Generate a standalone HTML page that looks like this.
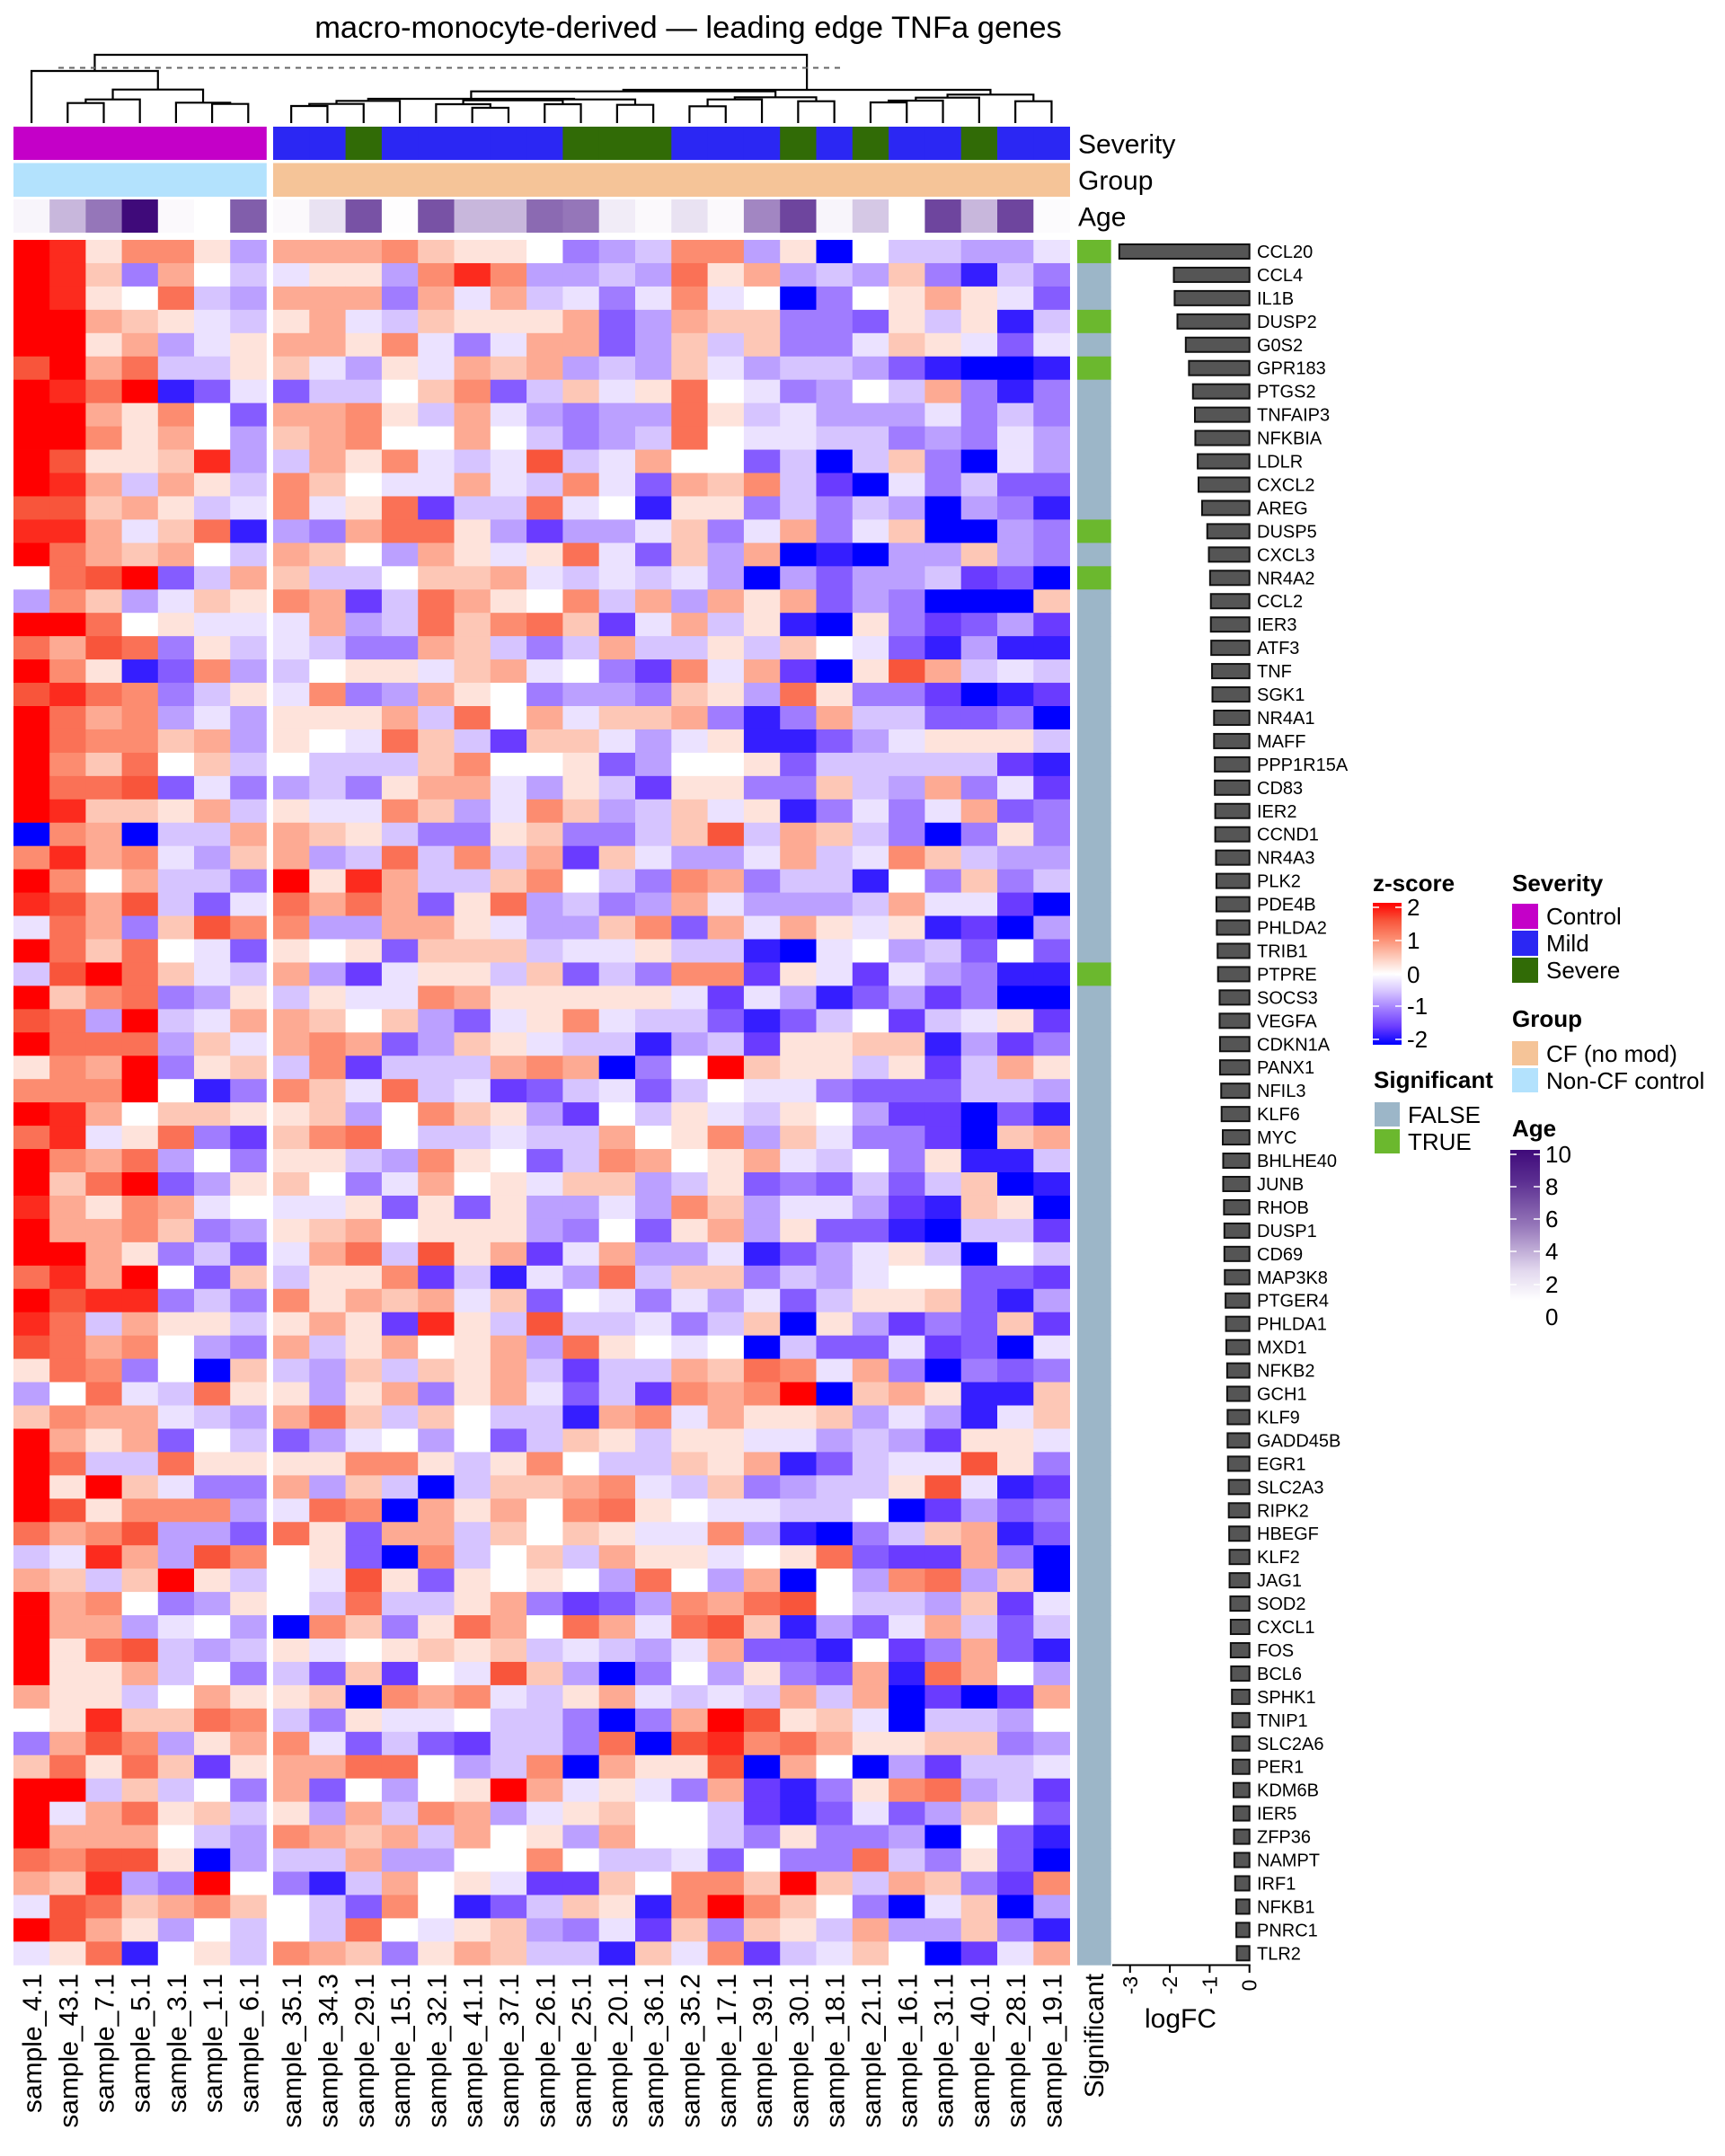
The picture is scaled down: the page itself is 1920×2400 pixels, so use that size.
<!DOCTYPE html>
<html><head><meta charset="utf-8"><title>macro-monocyte-derived — leading edge TNFa genes</title>
<style>
html,body{margin:0;padding:0;background:#fff;}
svg{display:block;font-family:"Liberation Sans",Arial,sans-serif;}
</style></head>
<body>
<svg id="chart" width="1920" height="2400" viewBox="0 0 1920 2400" xmlns="http://www.w3.org/2000/svg">
<rect x="0" y="0" width="1920" height="2400" fill="#fff"/>
<text x="766" y="42" font-size="34.5" text-anchor="middle" fill="#000">macro-monocyte-derived — leading edge TNFa genes</text>
<g id="dendro"></g>
<g id="annots"></g>
<g id="cells"></g>
<g id="collabels"></g>
<g id="sig"></g>
<g id="bars"></g>
<g id="legends"></g>
</svg>
<script>
const samples = ["sample_4.1","sample_43.1","sample_7.1","sample_5.1","sample_3.1","sample_1.1","sample_6.1",
"sample_35.1","sample_34.3","sample_29.1","sample_15.1","sample_32.1","sample_41.1","sample_37.1","sample_26.1","sample_25.1","sample_20.1","sample_36.1","sample_35.2","sample_17.1","sample_39.1","sample_30.1","sample_18.1","sample_21.1","sample_16.1","sample_31.1","sample_40.1","sample_28.1","sample_19.1"];
const severity = ["Control","Control","Control","Control","Control","Control","Control",
"Mild","Mild","Severe","Mild","Mild","Mild","Mild","Mild","Severe","Severe","Severe","Mild","Mild","Mild","Severe","Mild","Severe","Mild","Mild","Severe","Mild","Mild"];
const groups = ["Non-CF control","Non-CF control","Non-CF control","Non-CF control","Non-CF control","Non-CF control","Non-CF control",
"CF","CF","CF","CF","CF","CF","CF","CF","CF","CF","CF","CF","CF","CF","CF","CF","CF","CF","CF","CF","CF","CF"];
const ages = [0.5,3,5,10,0.3,0,6, 0.3,1.5,6.5,0.1,6.5,3,3,5.5,5,1,0.3,1.5,0.3,4.5,7,0.5,2.5,0,7,3,7,0.2];
const genes = ["CCL20","CCL4","IL1B","DUSP2","G0S2","GPR183","PTGS2","TNFAIP3","NFKBIA","LDLR","CXCL2","AREG","DUSP5","CXCL3","NR4A2","CCL2","IER3","ATF3","TNF","SGK1","NR4A1","MAFF","PPP1R15A","CD83","IER2","CCND1","NR4A3","PLK2","PDE4B","PHLDA2","TRIB1","PTPRE","SOCS3","VEGFA","CDKN1A","PANX1","NFIL3","KLF6","MYC","BHLHE40","JUNB","RHOB","DUSP1","CD69","MAP3K8","PTGER4","PHLDA1","MXD1","NFKB2","GCH1","KLF9","GADD45B","EGR1","SLC2A3","RIPK2","HBEGF","KLF2","JAG1","SOD2","CXCL1","FOS","BCL6","SPHK1","TNIP1","SLC2A6","PER1","KDM6B","IER5","ZFP36","NAMPT","IRF1","NFKB1","PNRC1","TLR2"];
const logFC = [-3.27,-1.9,-1.88,-1.81,-1.6,-1.52,-1.42,-1.37,-1.36,-1.3,-1.28,-1.19,-1.06,-1.02,-0.99,-0.97,-0.97,-0.96,-0.94,-0.93,-0.89,-0.89,-0.87,-0.87,-0.86,-0.86,-0.84,-0.83,-0.83,-0.82,-0.8,-0.79,-0.75,-0.75,-0.74,-0.74,-0.71,-0.7,-0.67,-0.66,-0.66,-0.64,-0.63,-0.63,-0.62,-0.6,-0.59,-0.58,-0.56,-0.56,-0.55,-0.55,-0.54,-0.52,-0.52,-0.51,-0.5,-0.5,-0.48,-0.47,-0.47,-0.46,-0.44,-0.43,-0.43,-0.42,-0.4,-0.4,-0.39,-0.38,-0.36,-0.33,-0.33,-0.32];
const sigGenes = ["CCL20","DUSP2","GPR183","DUSP5","NR4A2","PTPRE"];
// z-score rows: letter code a=-2 ... i=0 ... q=+2 (0.25 steps), one char per sample
const zRows = [
"qpjmmjflllmkjjiefgmmfjaiggffh","qpkelighjjfmpmffgfnjlfgfkebge","qpjingflllelhlghehmhiaeijljhd","qqlkjhgjlhgkjjjldflkkeedjgjbg",
"qqjlfhjlljmhehlldfkgkeehkjhdh","oqlnggjkhfjhlklfgfkhfggfdbaab","qpnqbdhdggikmdgkhjnihefiglebe","qqljmidllmjglhfeffnjghfffhege",
"qqmjlifklmiiligefgnihhggefehf","qojjkpfgljmhghoghliidgagkeahf","qplgljgmkihhlhgmhdlkmgcahegdd","ookljghmhjncggnhibjjegegfafeb",
"pplhknbfelnnjfcffhkehlehkaafe","qnlkliglkifljhjnhdkflabaffkfe","inoqdglkggikklhghghfafdffgcda","fmkfhkjmlcgnljimglfljldfeaaak",
"qqnijhhhlfgnkmnkchlgjbajecdfc","nlonejghgeelkgeglggjgkihdbfbb","qmjbdmfgijjhklhiecmhlcajolghg","opnmegjhmefljieffekjfnjeecabc",
"qnlmfhfjjjlgnilhkklebelggddea","qnmmklfjihnkgckkhfhjbbdfhjjjg","qmknikgigggkmiijdfiijdgggggcb","qnnodhefgejllhfjgcjjeekgflehc",
"qpkkjlgjhhmkfhmkfgkhjbehehlde","amlaggllkjgeejkeegkoglkgeaeje","mplmhfklfgngmglckhffhlghmkgff","qmilggeqjplggkmigemleggbiekeg",
"pologdhnlnldjnfgeflhfffglhhca","hnlekommfflljhffkmdlhljhjbcaf","qnknihdjijdkkkghhjggbahifgdid","goqnkhglfchjjgkdgemmcjhchfebb",
"qkmnefjgjhhmljjjjjhchfbdfceaa","onfqghllkikfdhjmhggdbdgicghjc","qnnnfkhlmldfkjhggbfgcjjkkbfce","jmlqejkgmcggglmlaeiqkjjgjcglj",
"mmmqibemkhnghcdghdgihhedddggf","qplikkjjkfimkjfcigjhgjifccadb","nphjneckmnigghgglijmfkheecakl","qmlnfiejjgfmjidgmlijlhgiejbbg",
"qknqdfjkiehlijhkkfgjdedgdgkab","pljmlhihhjdjdjffhfmkfhhfcbkja","qllmkefjklijjjfeidjlfjddbaggc","qqljegdhlngojlchlffhbdfhjgaig",
"nplqidkgjjmcgbhfngkkegfhiiddc","qoppegemjlklhkdihehfhdgjjkdbf","pngljjgjljcpjgogghegkajfcedkc","onlmifelgjlijlfnjihiagddhcdah",
"jnmeiakgfkgkjlgcgglknmhleaede","finhgnjjfjlejlhdgcmlmqakljbbk","kmllhgflnkgkiggblmhljjkfhfbhk","qljldigdfhifidgkjgjjhhfgfcjjh",
"qnggnjjjjmmjgjmiggkjlbdghhoje","qjqkheelfkgagkklmhgkefggjohbc","qojmmmfhnmaljlimnjihhggiacfde","nlmoffdnjdllgkikjhhmfbaegklbd",
"ghplfomijdamgikgljjhijndcclea","lkgkqjgihojdjijifniflaifmnfka","qlmiefjignggjlecdfmlnoiggfkch","qllfhifamkejnlinlhnokbfdhlgdg",
"qjnogfgjhijkjkghgfhlddbiceldb","qjjlgiegdkcihokfaeifjedlbnlif","ljjgiljjkamlmhgjlhghglglacacl","ijpkknmgejhhiggeaelqojkhaggfi",
"elomfjlmhdgdcggenaopmnljjkkef","knjnkcjllnnifgmaljjoaliafcggh","qqgkgieldifijqlhjhelcbejmnfgc","qhlnjkgjflgmlfhjkiigcbdhdfkid",
"qllligfmlklglijfliigejeefaidb","nmoojafgglffiimigghdieengejda","lkpfeqiebglijhcckimmkqkglkecm","honklmkigdmibdgkjbmqmkieahkaf",
"qoljfigignihjkfehckekjglffkeb","hjnbijgmlkejlkggbkhmcghkiachl"];
// dendrogram merges: children (leaf index or "m#"), merge height (distance units)
const mergeLeft  = [1,"m0",5,4,"m1",0, 7,"m6","m7",12,11,14,"m10",16,"m12","m8",18,"m16",21,"m17","m15",23,"m21","m22",27,"m23","m20","m5"];
const mergeRight = [2,3,6,"m2","m3","m4", 8,9,10,13,"m9",15,"m11",17,"m13","m14",19,20,22,"m18","m19",24,25,26,28,"m24","m25","m26"];
const mergeHeight= [22.3,26.3,21.3,22.7,37.3,58, 19,21.3,24.7,17,21,21,25.3,20.3,26.3,27,18.7,26.3,24.3,28.7,35.3,23,25,28.3,24.3,31.7,37,76];

const NS="http://www.w3.org/2000/svg";
function mk(tag, attrs, parent){const e=document.createElementNS(NS,tag);for(const k in attrs)e.setAttribute(k,attrs[k]);parent.appendChild(e);return e;}

const ROW0=267, ROWH=25.95;
function colX(c){return c<7 ? 15+c*40.2 : 304+(c-7)*40.3;}
function colW(c){return c<7 ? 40.2 : 40.3;}
function colC(c){return colX(c)+colW(c)/2;}
function rowY(r){return ROW0+r*ROWH;}
function dendY(h){return 137-h;}
const X0=1390.7, UNIT=44.3;
function fcX(v){return X0+v*UNIT;}

function hex2rgb(h){return [parseInt(h.slice(1,3),16),parseInt(h.slice(3,5),16),parseInt(h.slice(5,7),16)];}
function ramp(stops, v){
  if(v<=stops[0][0]) return stops[0][1];
  for(let i=1;i<stops.length;i++){
    if(v<=stops[i][0]){
      const t=(v-stops[i-1][0])/(stops[i][0]-stops[i-1][0]);
      const a=hex2rgb(stops[i-1][1]), b=hex2rgb(stops[i][1]);
      return "rgb("+a.map((x,j)=>Math.round(x+(b[j]-x)*t)).join(",")+")";
    }
  }
  return stops[stops.length-1][1];
}
const zStops=[[-2,"#0000FF"],[-1.5,"#6A3BFF"],[-1,"#A07CFF"],[-0.5,"#D6C4FF"],[0,"#FFFFFF"],[0.5,"#FDC7B6"],[1,"#FC8C70"],[1.5,"#F8553B"],[2,"#FF0000"]];
const ageStops=[[0,"#FFFFFF"],[2,"#E2D8EE"],[5,"#9576B9"],[8,"#5A2D90"],[10,"#3F0A7A"]];
function zColor(v){return ramp(zStops,v);}
function ageColor(v){return ramp(ageStops,v);}
const sevColor={"Control":"#C400C8","Mild":"#2B27F3","Severe":"#316B06"};
const grpColor={"CF":"#F5C498","Non-CF control":"#B3E2FD"};

const cells=document.getElementById("cells");
zRows.forEach((row,r)=>{
  for(let c=0;c<samples.length;c++){
    const v=(row.charCodeAt(c)-105)*0.25;
    const e=mk("rect",{x:colX(c).toFixed(2),y:rowY(r).toFixed(2),width:(colW(c)+0.4).toFixed(2),height:(ROWH+0.4).toFixed(2),fill:zColor(v)},cells);
    
    
  }
});

const an=document.getElementById("annots");
for(let c=0;c<samples.length;c++){
  const w=colW(c)+0.4;
  const s=mk("rect",{x:colX(c),y:141,width:w,height:37,fill:sevColor[severity[c]]},an);
  
  
  const g=mk("rect",{x:colX(c),y:181.5,width:w,height:37.5,fill:grpColor[groups[c]]},an);
  
  
  const a=mk("rect",{x:colX(c),y:222,width:w,height:37,fill:ageColor(ages[c])},an);
  
  
}
[["Severity",159.5],["Group",200],["Age",240.5]].forEach(([t,y])=>{
  const e=mk("text",{x:1200,y:y+11,"font-size":30,fill:"#000"},an);e.textContent=t;
  
  
});

const cl=document.getElementById("collabels");
samples.forEach((s,c)=>{
  const x=colC(c)+11;
  const e=mk("text",{x:x,y:2197,"font-size":30,"text-anchor":"end",transform:`rotate(-90 ${x} 2197)`,fill:"#000"},cl);
  e.textContent=s;
  
  
});

const dg=document.getElementById("dendro");
const nodeX={}, nodeH={};
function ref(k){ if(typeof k==="string" && k[0]==="m") return {x:nodeX[k],y:dendY(nodeH[k])}; const i=Number(k); return {x:colC(i),y:137}; }
mergeHeight.forEach((h,i)=>{
  const L=ref(mergeLeft[i]), R=ref(mergeRight[i]), y=dendY(h);
  nodeX["m"+i]=(L.x+R.x)/2; nodeH["m"+i]=h;
  const p=mk("path",{d:`M${L.x},${L.y}V${y}H${R.x}V${R.y}`,fill:"none",stroke:"#000","stroke-width":2.2},dg);
  
  
});
const cut=mk("line",{x1:65,y1:75.5,x2:935,y2:75.5,stroke:"#666","stroke-width":2,"stroke-dasharray":"6,6"},dg);



const sg=document.getElementById("sig");
genes.forEach((gname,r)=>{
  const t=sigGenes.includes(gname);
  const e=mk("rect",{x:1199,y:rowY(r),width:37.7,height:ROWH+0.4,fill:t?"#6BB82E":"#9CB6C8"},sg);
  
  
});
{const x=1228;const e=mk("text",{x:x,y:2197,"font-size":30,"text-anchor":"end",transform:`rotate(-90 ${x} 2197)`},sg);e.textContent="Significant";

}

const bg=document.getElementById("bars");
logFC.forEach((v,r)=>{
  const cy=rowY(r)+ROWH/2;
  const b=mk("rect",{x:fcX(v),y:cy-8,width:fcX(0)-fcX(v),height:16,fill:"#555",stroke:"#111","stroke-width":2},bg);
  
  
  const t=mk("text",{x:1399,y:cy+7,"font-size":20,fill:"#000"},bg);t.textContent=genes[r];
  
  
});
const ticks=[-3,-2,-1,0];
const ax=mk("line",{x1:1238,y1:2187.5,x2:fcX(0)+1,y2:2187.5,stroke:"#000","stroke-width":2},bg);


ticks.forEach(t=>{
  const x=fcX(t);
  const l=mk("line",{x1:x,y1:2187,x2:x,y2:2196,stroke:"#000","stroke-width":2},bg);
  
  
  const tx=mk("text",{x:x+8,y:2210,"font-size":23,"text-anchor":"middle",transform:`rotate(-90 ${x+8} 2210)`},bg);
  tx.textContent=String(t);
  
  
});
{const e=mk("text",{x:1314,y:2257,"font-size":30,"text-anchor":"middle"},bg);e.textContent="logFC";

}

const lg=document.getElementById("legends");
const defs=mk("defs",{},lg);
const gz=mk("linearGradient",{id:"zgrad",x1:0,y1:0,x2:0,y2:1},defs);
[2,1.5,1,0.5,0,-0.5,-1,-1.5,-2].forEach((v,i)=>mk("stop",{offset:(i/8),"stop-color":zColor(v)},gz));
const ga=mk("linearGradient",{id:"agrad",x1:0,y1:0,x2:0,y2:1},defs);
[10,8,5,2,0].forEach(v=>mk("stop",{offset:(10-v)/10,"stop-color":ageColor(v)},ga));
function txt(s,x,y,sz,bold,name){const e=mk("text",{x:x,y:y,"font-size":sz,"font-weight":bold?"bold":"normal"},lg);e.textContent=s;return e;}
txt("z-score",1528,992,26,true,"zscore-legend-title");
{const r=mk("rect",{x:1528,y:1005,width:32,height:158,fill:"url(#zgrad)"},lg);}
[[2,1010],[1,1047],[0,1085],[-1,1120],[-2,1157]].forEach(([v,y])=>{
  mk("line",{x1:1528,y1:y,x2:1535,y2:y,stroke:"#fff","stroke-width":1.5},lg);
  mk("line",{x1:1553,y1:y,x2:1560,y2:y,stroke:"#fff","stroke-width":1.5},lg);
  txt(String(v),1566,y+9,26,false,"zscore-tick-label");
});
txt("Significant",1529,1211,26,true,"significant-legend-title");
[["FALSE","#9CB6C8",1227],["TRUE","#6BB82E",1257]].forEach(([t,c,y])=>{
  const r=mk("rect",{x:1530,y:y,width:28,height:27,fill:c},lg);
  txt(t,1567,y+23,26,false,"significant-legend-entry");
});
txt("Severity",1683,992,26,true,"severity-legend-title");
[["Control","#C400C8",1006],["Mild","#2B27F3",1036],["Severe","#316B06",1066]].forEach(([t,c,y])=>{
  const r=mk("rect",{x:1683,y:y,width:29,height:28,fill:c},lg);
  txt(t,1721,y+23,26,false,"severity-legend-entry");
});
txt("Group",1683,1143,26,true,"group-legend-title");
[["CF (no mod)","#F5C498",1159],["Non-CF control","#B3E2FD",1189]].forEach(([t,c,y])=>{
  const r=mk("rect",{x:1683,y:y,width:29,height:27,fill:c},lg);
  txt(t,1721,y+23,26,false,"group-legend-entry");
});
txt("Age",1683,1265,26,true,"age-legend-title");
{const r=mk("rect",{x:1681,y:1280,width:33,height:168,fill:"url(#agrad)"},lg);}
[[10,1285],[8,1321],[6,1357],[4,1393],[2,1430],[0,1466]].forEach(([v,y])=>{
  if(v>0){mk("line",{x1:1681,y1:y,x2:1688,y2:y,stroke:"#fff","stroke-width":1.5},lg);
  mk("line",{x1:1707,y1:y,x2:1714,y2:y,stroke:"#fff","stroke-width":1.5},lg);}
  txt(String(v),1720,y+9,26,false,"age-tick-label");
});
</script>
</body></html>
